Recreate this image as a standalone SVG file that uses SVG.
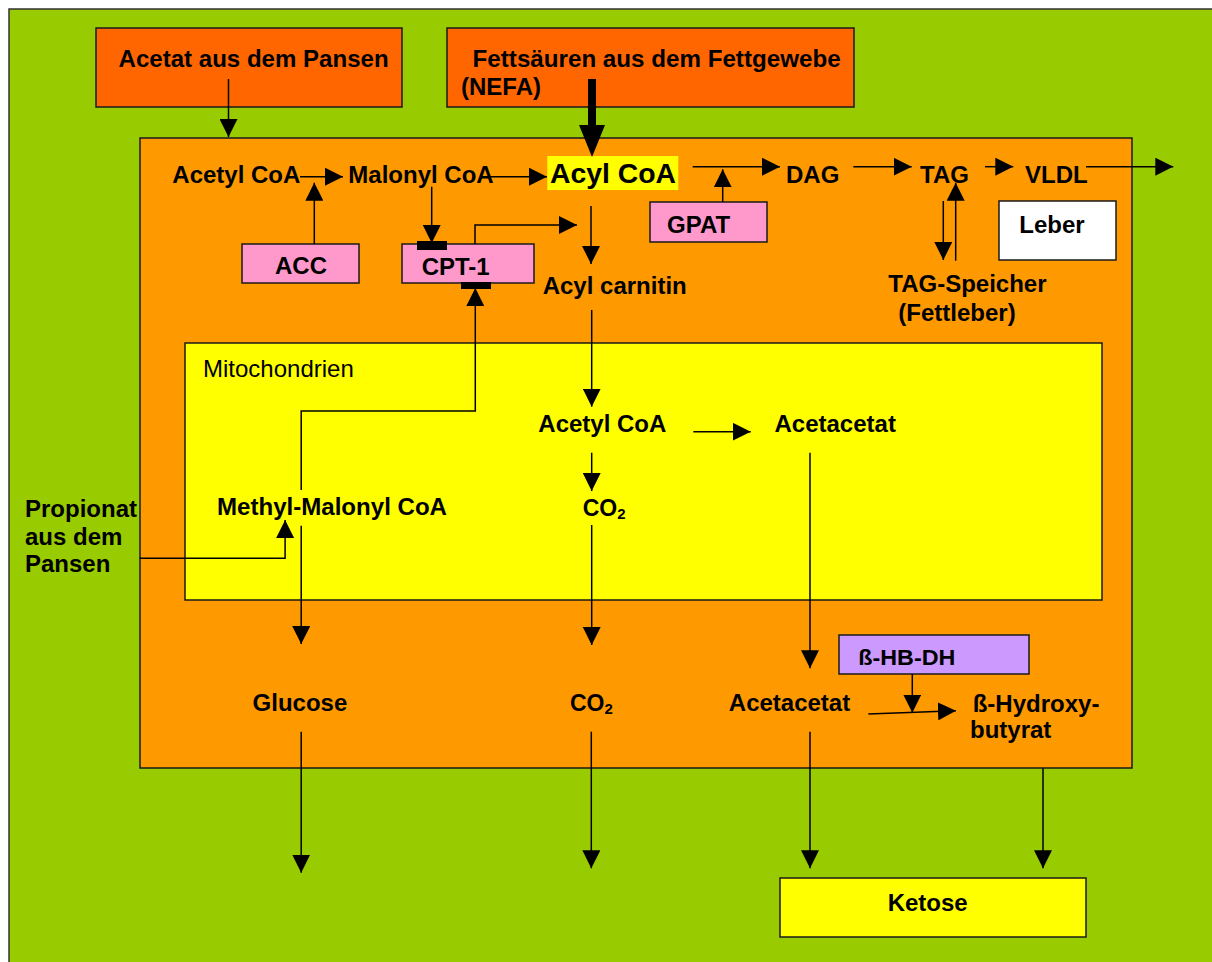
<svg xmlns="http://www.w3.org/2000/svg" width="1212" height="962" viewBox="0 0 1212 962">
<defs>
<style>
.box{stroke:#1a1a1a;stroke-width:1.5}
.t{font-family:"Liberation Sans",Arial,sans-serif;font-size:24px;font-weight:bold;fill:#000}
.n{font-family:"Liberation Sans",Arial,sans-serif;font-size:24px;font-weight:normal;fill:#000}
.c{fill:none;stroke:#000;stroke-width:1.5}
.a{marker-end:url(#ah)}
</style>
<marker id="ah" viewBox="0 0 18 18" refX="18" refY="9" markerWidth="18" markerHeight="18" markerUnits="userSpaceOnUse" orient="auto">
<path d="M0,0 L18,9 L0,18 z" fill="#000"/>
</marker>
</defs>
<rect x="0" y="0" width="1212" height="962" fill="#fff"/>
<rect x="9" y="9" width="1210" height="960" fill="#99CC00" stroke="#333" stroke-width="1.5"/>

<g id="acetat-source"><rect class="box" x="96" y="28" width="306" height="79" fill="#FF6600"/>
<text class="t" x="118.6" y="67" textLength="270" lengthAdjust="spacingAndGlyphs">Acetat aus dem Pansen</text></g>
<g id="nefa-source"><rect class="box" x="447" y="28" width="407" height="79" fill="#FF6600"/>
<text class="t" x="472.6" y="67" textLength="368" lengthAdjust="spacingAndGlyphs">Fettsäuren aus dem Fettgewebe</text>
<text class="t" x="461" y="95">(NEFA)</text></g>

<g id="leber-cell"><rect class="box" x="140" y="138" width="992" height="630" fill="#FF9900"/></g>
<g id="mitochondrien"><rect class="box" x="185" y="343" width="917" height="257" fill="#FFFF00"/>
<text class="n" x="203" y="376.7">Mitochondrien</text></g>

<g id="acetyl-coa"><text class="t" x="172.3" y="183.3">Acetyl CoA</text></g>
<g id="malonyl-coa"><text class="t" x="348.3" y="183.3">Malonyl CoA</text></g>
<g id="acyl-coa"><rect x="547.3" y="156" width="131" height="34" fill="#FFFF00"/>
<text class="t" x="550" y="183.3" style="font-size:28px" textLength="126" lengthAdjust="spacingAndGlyphs">Acyl CoA</text></g>
<g id="dag"><text class="t" x="786" y="183.3">DAG</text></g>
<g id="tag"><text class="t" x="920" y="183.3">TAG</text></g>
<g id="vldl"><text class="t" x="1025" y="183.3">VLDL</text></g>
<g id="acc"><rect class="box" x="242" y="244" width="117" height="39" fill="#FF99CC"/>
<text class="t" x="275" y="274.3">ACC</text></g>
<g id="cpt1"><rect class="box" x="402" y="244" width="132" height="39" fill="#FF99CC"/>
<text class="t" x="421.7" y="275">CPT-1</text></g>
<g id="gpat"><rect class="box" x="650" y="202" width="117" height="40" fill="#FF99CC"/>
<text class="t" x="667" y="232.7">GPAT</text></g>
<g id="leber"><rect class="box" x="999" y="201" width="117" height="59" fill="#fff"/>
<text class="t" x="1019.3" y="233.3">Leber</text></g>
<g id="acyl-carnitin"><text class="t" x="542.7" y="294">Acyl carnitin</text></g>
<g id="tag-speicher"><text class="t" x="888.3" y="291.7">TAG-Speicher</text>
<text class="t" x="898.3" y="321">(Fettleber)</text></g>
<g id="acetyl-coa-mito"><text class="t" x="538.3" y="431.7">Acetyl CoA</text></g>
<g id="acetacetat-mito"><text class="t" x="774.5" y="431.7">Acetacetat</text></g>
<g id="methyl-malonyl"><text class="t" x="217" y="515" textLength="230" lengthAdjust="spacingAndGlyphs">Methyl-Malonyl CoA</text></g>
<g id="co2-mito"><text class="t" x="582.7" y="516" style="font-size:23px">CO<tspan style="font-size:15px" dy="3">2</tspan></text></g>
<g id="propionat"><text class="t" x="25" y="516.7">Propionat</text>
<text class="t" x="25" y="545">aus dem</text>
<text class="t" x="25" y="571.7">Pansen</text></g>
<g id="glucose"><text class="t" x="252.6" y="711">Glucose</text></g>
<g id="co2"><text class="t" x="570" y="711" style="font-size:23px">CO<tspan style="font-size:15px" dy="3">2</tspan></text></g>
<g id="acetacetat"><text class="t" x="728.8" y="711">Acetacetat</text></g>
<g id="bhbdh"><rect class="box" x="839" y="635" width="190" height="39" fill="#CC99FF"/>
<text class="t" x="858.3" y="665" style="font-size:22px" textLength="97" lengthAdjust="spacingAndGlyphs">ß-HB-DH</text></g>
<g id="hydroxybutyrat"><text class="t" x="972.7" y="711.7">ß-Hydroxy-</text>
<text class="t" x="970" y="738.3">butyrat</text></g>
<g id="ketose"><rect class="box" x="780" y="878" width="306" height="59" fill="#FFFF00"/>
<text class="t" x="887.7" y="910.7">Ketose</text></g>

<g id="connectors">
<line class="c a" x1="228.5" y1="79" x2="228.5" y2="137"/>
<line x1="592" y1="79" x2="592" y2="127" stroke="#000" stroke-width="8"/>
<polygon points="579,125 605,125 592,157" fill="#000"/>
<line class="c a" x1="300" y1="176.7" x2="343" y2="176.7"/>
<line class="c a" x1="314.3" y1="244" x2="314.3" y2="182.7"/>
<line class="c a" x1="490" y1="176.7" x2="547" y2="176.7"/>
<line class="c a" x1="431.7" y1="186.7" x2="431.7" y2="243"/>
<rect x="417" y="241" width="30" height="9" fill="#000"/>
<path class="c a" d="M475,244 V225 H577"/>
<line class="c a" x1="591" y1="206" x2="591" y2="264"/>
<line class="c a" x1="692.7" y1="166.7" x2="780" y2="166.7"/>
<line class="c a" x1="722.7" y1="202" x2="722.7" y2="169.3"/>
<line class="c a" x1="853.3" y1="166.7" x2="911.7" y2="166.7"/>
<line class="c a" x1="985" y1="166.7" x2="1013.3" y2="166.7"/>
<line class="c a" x1="1086" y1="166.7" x2="1173.3" y2="166.7"/>
<line class="c a" x1="943.3" y1="201" x2="943.3" y2="260"/>
<line class="c a" x1="955.7" y1="260.7" x2="955.7" y2="182.7"/>
<line class="c a" x1="591.7" y1="310" x2="591.7" y2="406.7"/>
<line class="c a" x1="693.3" y1="431.7" x2="750.7" y2="431.7"/>
<line class="c a" x1="591.7" y1="452.7" x2="591.7" y2="491"/>
<line class="c a" x1="591.7" y1="525" x2="591.7" y2="645"/>
<line class="c a" x1="810" y1="452.7" x2="810" y2="668.3"/>
<path class="c a" d="M301.2,490 V411 H475.3 V288"/>
<rect x="461" y="282" width="30" height="7" fill="#000"/>
<line class="c a" x1="301.2" y1="525.7" x2="301.2" y2="644"/>
<path class="c a" d="M139.7,558.3 H285.1 V520"/>
<line class="c a" x1="912.3" y1="674" x2="912.3" y2="712.7"/>
<line class="c a" x1="868.3" y1="714" x2="956" y2="710.7"/>
<line class="c a" x1="301.2" y1="731.7" x2="301.2" y2="872.7"/>
<line class="c a" x1="591.3" y1="731.7" x2="591.3" y2="868.3"/>
<line class="c a" x1="810" y1="731.7" x2="810" y2="868.3"/>
<line class="c a" x1="1043" y1="768.3" x2="1043" y2="868.3"/>
</g>
</svg>
